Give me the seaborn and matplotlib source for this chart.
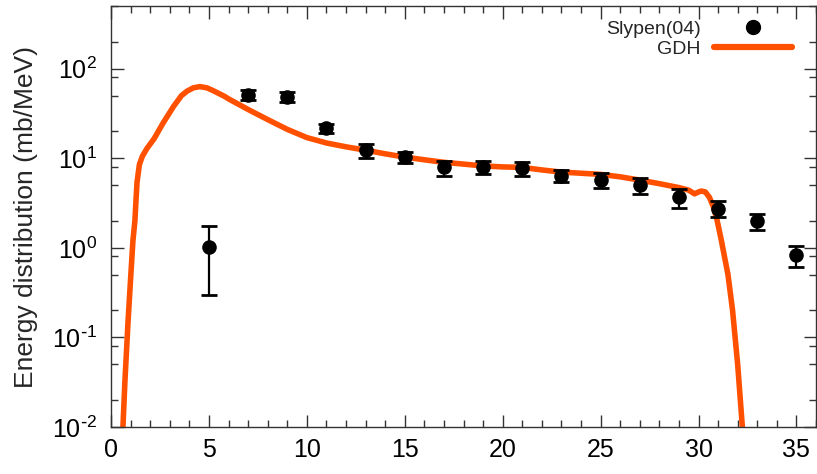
import numpy as np
import pandas as pd
import matplotlib
matplotlib.use("Agg")
import matplotlib.pyplot as plt
from matplotlib.lines import Line2D
from matplotlib.ticker import LogLocator, MultipleLocator, FixedLocator, FuncFormatter, NullFormatter
import seaborn as sns

# ---- data ----
exp_x = [5, 7, 9, 11, 13, 15, 17, 19, 21, 23, 25, 27, 29, 31, 33, 35]
exp_y = [1.02, 51, 48.5, 21.7, 12.3, 10.3, 7.9, 7.9, 7.7, 6.4, 5.7, 5.0, 3.65, 2.74, 2.0, 0.83]
exp_err = [0.72, 6, 6, 2.5, 2.2, 1.4, 1.5, 1.3, 1.3, 1.0, 1.1, 1.0, 0.9, 0.55, 0.4, 0.22]

gdh_x = [0.61, 0.71, 0.87, 1.0, 1.12, 1.22, 1.28, 1.33, 1.45, 1.6, 1.84, 2.2, 2.65, 3.2,
         3.6, 3.88, 4.2, 4.54, 4.9, 5.2, 5.8, 6.0, 6.7, 7.0, 8.0, 9.0, 10.0, 11.0, 12.0,
         13.0, 14.0, 15.0, 16.0, 17.0, 18.0, 19.0, 20.0, 21.0, 22.0, 23.0, 24.0, 25.0,
         26.0, 27.0, 28.0, 29.0, 29.5, 29.8, 30.0, 30.15, 30.35, 30.56, 30.75, 30.92,
         31.05, 31.17, 31.35, 31.5, 31.74, 32.0, 32.24]
gdh_y = [0.01, 0.032, 0.15, 0.45, 1.2, 2.0, 3.5, 5.4, 8.5, 10.5, 12.9, 16.5, 24.5, 38,
         50, 56, 61, 63, 61, 57, 49, 46, 38, 35, 27, 21, 17, 14.8, 13.4,
         12.3, 11.2, 10.3, 9.6, 9.0, 8.6, 8.2, 8.0, 7.9, 7.4, 7.0, 6.8, 6.6,
         6.2, 5.7, 5.2, 4.7, 4.4, 4.0, 4.2, 4.3, 4.2, 3.65, 2.9, 2.17,
         1.6, 1.2, 0.75, 0.51, 0.2, 0.05, 0.01]

x_ticks = [0, 5, 10, 15, 20, 25, 30, 35]
y_major = [1e-2, 1e-1, 1e0, 1e1, 1e2]

exp_label = "Slypen(04)"
gdh_label = "GDH"
ylabel = "Energy distribution (mb/MeV)"

# ---- style ----
sns.set_style("ticks")
plt.rcParams["font.family"] = ["Liberation Sans", "DejaVu Sans"]
plt.rcParams["mathtext.default"] = "regular"

fig = plt.figure(figsize=(8.17, 4.74), dpi=100)
ax = fig.add_axes([111 / 817, 1 - 427 / 474, (816 - 111) / 817, (427 - 6) / 474])

line_color = "#ff5000"
gdh_df = pd.DataFrame({"E": gdh_x, "val": gdh_y})
sns.lineplot(data=gdh_df, x="E", y="val", ax=ax, color=line_color, lw=4,
             sort=False, estimator=None, zorder=2)

exp_df = pd.DataFrame({"E": exp_x, "val": exp_y, "err": exp_err})
ax.errorbar(exp_df["E"], exp_df["val"], yerr=exp_df["err"], fmt="none",
            ecolor="black", elinewidth=1.6, capsize=6, capthick=2, zorder=3)
sns.scatterplot(data=exp_df, x="E", y="val", ax=ax, color="black", s=110,
                edgecolor="black", linewidth=0, zorder=4)

ax.set_yscale("log")
ax.set_xlim(0, 36)
ax.set_ylim(0.01, 500)


def yfmt(v, p):
    e = int(round(np.log10(v)))
    if e < 0:
        return "$10^{\\text{-}%d}$" % (-e)
    return "$10^{%d}$" % e


ax.xaxis.set_major_locator(FixedLocator(x_ticks))
ax.xaxis.set_minor_locator(MultipleLocator(1))
ax.yaxis.set_major_locator(FixedLocator(y_major))
ax.yaxis.set_minor_locator(LogLocator(base=10, subs=[2, 5, 8], numticks=20))
ax.yaxis.set_minor_formatter(NullFormatter())
ax.yaxis.set_major_formatter(FuncFormatter(yfmt))

ax.tick_params(which="both", direction="in", top=True, right=True, colors="#333333",
               labelcolor="black", labelsize=18)
ax.tick_params(which="major", length=9, width=1)
ax.tick_params(which="minor", length=5, width=1)
ax.tick_params(axis="x", pad=8)
ax.tick_params(axis="y", pad=10)

for sp in ax.spines.values():
    sp.set_color("#333333")
    sp.set_linewidth(1)

ax.set_xlabel("")
ax.set_ylabel(ylabel, fontsize=19)
ax.yaxis.set_label_coords(-0.103, 0.5)

handles = [Line2D([], [], marker="o", color="black", ls="none", markersize=10),
           Line2D([], [], color=line_color, lw=4.5)]
leg = ax.legend(handles, [exp_label, gdh_label], markerfirst=False, frameon=False,
                fontsize=14, loc="upper right",
                bbox_to_anchor=(792 / 817, 1 - 20 / 474), bbox_transform=fig.transFigure,
                handlelength=4.0, handletextpad=0.7, labelspacing=0.12,
                borderpad=0.0, borderaxespad=0.0)

fig.savefig("out.png", dpi=100)
